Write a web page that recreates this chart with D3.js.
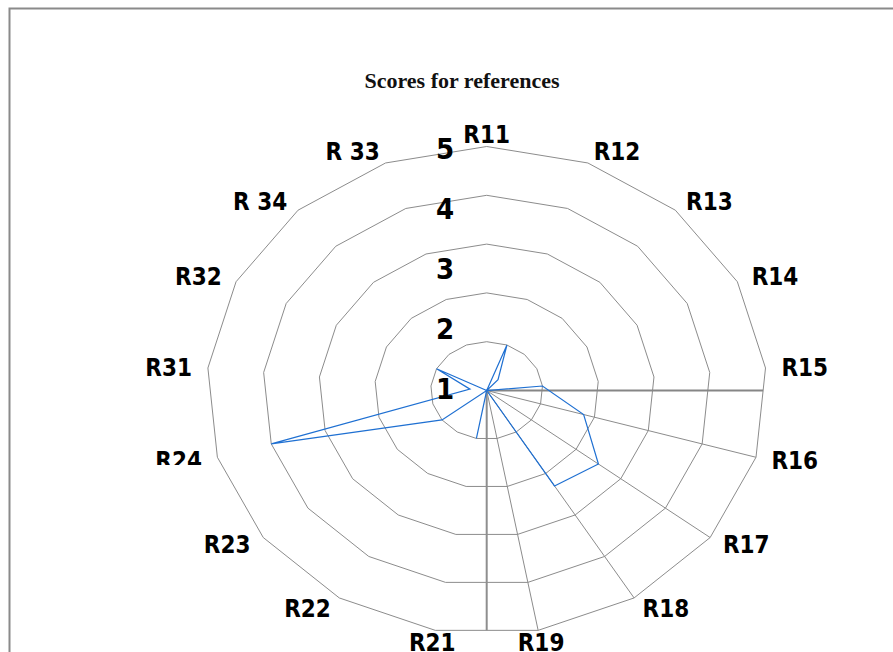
<!DOCTYPE html>
<html><head><meta charset="utf-8">
<script src="https://cdn.jsdelivr.net/npm/d3@7"></script>
<style>
html,body{margin:0;padding:0;background:#fff;}
svg{display:block;}
.lab{font-family:"DejaVu Sans Condensed","DejaVu Sans",sans-serif;font-stretch:condensed;font-weight:bold;fill:#000;}
.title{font-family:"Liberation Serif","DejaVu Serif",serif;font-weight:bold;fill:#111;}
</style></head>
<body>
<script>
const categories = ["R11","R12","R13","R14","R15","R16","R17","R18","R19","R21","R22","R23","R24","R31","R32","R 34","R 33"];
const scores = [0, 1, 0.3, 0, 1, 1.8, 2.5, 2.3, 0, 1, 0, 1, 4, 0.3, 1, 0, 0];
const ringLevels = [1, 2, 3, 4, 5];
const tickLabels = ["1", "2", "3", "4", "5"];
const spokeCategories = ["R16","R17","R18","R19"];

const W = 893, H = 652;
const cx = 486.7, cy = 390.5, rx = 280, ry = 244;
const svg = d3.select("body").append("svg").attr("width", W).attr("height", H);

// frame
svg.append("rect").attr("x", 9.5).attr("y", 8.5).attr("width", W + 20).attr("height", H + 20)
  .attr("fill", "none").attr("stroke", "#8a8a8a").attr("stroke-width", 2);

// title
svg.append("text").attr("class", "title").attr("x", 462).attr("y", 88)
  .attr("text-anchor", "middle").attr("font-size", 22).text("Scores for references");

const ang = d3.scaleBand().domain(categories).range([0, 2 * Math.PI]).paddingInner(0).paddingOuter(0);
const angle = c => ang(c);
const r = d3.scaleLinear().domain([0, 5]).range([0, 1]);
const px = (c, v) => cx + rx * r(v) * Math.sin(angle(c));
const py = (c, v) => cy - ry * r(v) * Math.cos(angle(c));

const g = svg.append("g");

// rings
const ringLine = d3.line().x(d => d[0]).y(d => d[1]).curve(d3.curveLinearClosed);
g.selectAll("path.ring").data(ringLevels).join("path").attr("class", "ring")
  .attr("d", lv => ringLine(categories.map(c => [px(c, lv), py(c, lv)])))
  .attr("fill", "none").attr("stroke", "#8c8c8c").attr("stroke-width", 1);

// spokes
g.selectAll("line.spoke").data(spokeCategories).join("line").attr("class", "spoke")
  .attr("x1", cx).attr("y1", cy).attr("x2", c => px(c, 5)).attr("y2", c => py(c, 5))
  .attr("stroke", "#8c8c8c").attr("stroke-width", 1);

// horizontal and vertical axis lines to the outer polygon
{
  const a = categories[4], b = categories[5];
  const ax = px(a, 5), ay = py(a, 5), bx = px(b, 5), by = py(b, 5);
  const t = (cy - ay) / (by - ay);
  const ex = ax + t * (bx - ax);
  g.append("line").attr("x1", cx).attr("y1", cy).attr("x2", ex).attr("y2", cy)
    .attr("stroke", "#868686").attr("stroke-width", 2);
  const c1 = categories[8], c2 = categories[9];
  const ey = (py(c1, 5) + py(c2, 5)) / 2;
  g.append("line").attr("x1", cx).attr("y1", cy).attr("x2", cx).attr("y2", ey)
    .attr("stroke", "#8e8e8e").attr("stroke-width", 2);
}

// data polygon
g.append("path")
  .attr("d", ringLine(categories.map((c, i) => [px(c, scores[i]), py(c, scores[i])])))
  .attr("fill", "none").attr("stroke", "#1f70d2").attr("stroke-width", 1.2).attr("stroke-linejoin", "miter");

// tick labels
const tickY = d3.scaleLinear().domain([1, 5]).range([cy - 2, cy - 242]);
svg.selectAll("text.tick").data(tickLabels).join("text").attr("class", "lab tick")
  .attr("x", 445).attr("y", d => tickY(+d)).attr("dy", "0.36em")
  .attr("text-anchor", "middle").attr("font-size", 29).text(d => d);

// category labels
const lg = svg.append("g");
lg.selectAll("text.cat").data(categories).join("text").attr("class", "lab cat")
  .each(function(c) {
    const a = angle(c), s = Math.sin(a), co = Math.cos(a);
    const x = px(c, 5) + 16 * s, y = py(c, 5) - 12 * co;
    d3.select(this).attr("x", x).attr("y", y).attr("dy", "0.36em")
      .attr("text-anchor", s > 0.3 ? "start" : (s < -0.3 ? "end" : "middle"));
  })
  .attr("font-size", 24).text(c => c);

// partial occlusion of lower-left label (as in reference)
svg.append("rect").attr("x", 140).attr("y", 465).attr("width", 75).attr("height", 22).attr("fill", "#fff");
</script>
</body></html>
